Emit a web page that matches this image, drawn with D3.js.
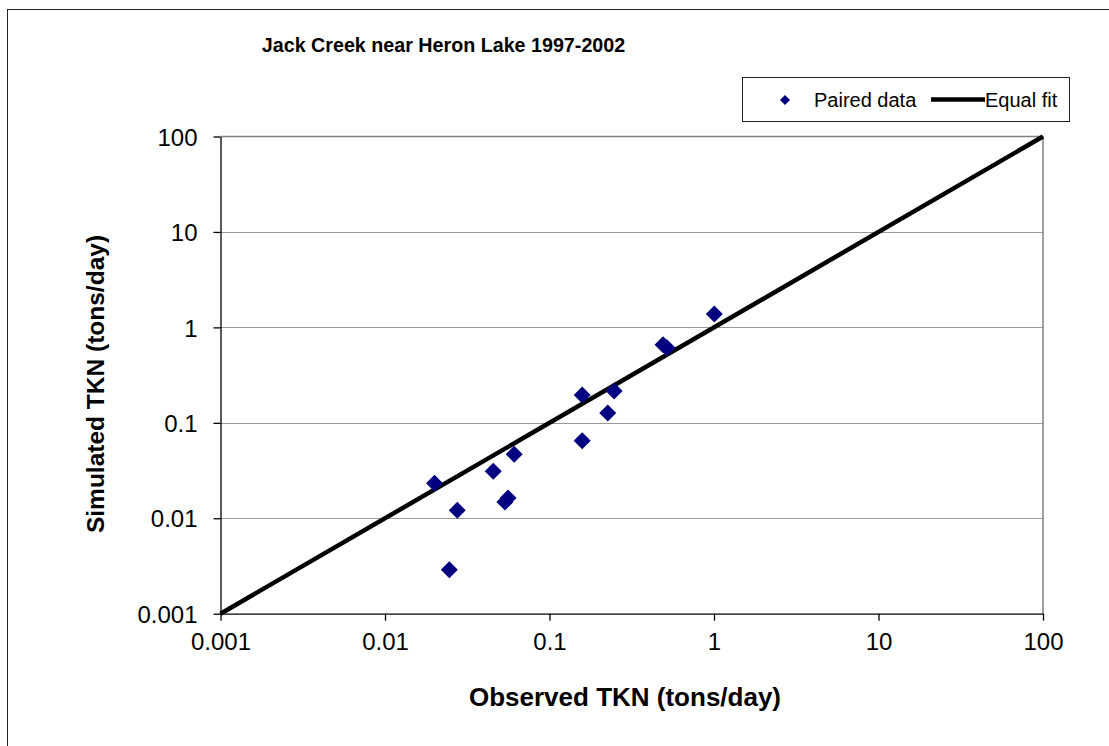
<!DOCTYPE html>
<html><head><meta charset="utf-8">
<script src="https://cdn.jsdelivr.net/npm/d3@7"></script>
<style>body{margin:0;background:#fff}svg{display:block;font-family:"Liberation Sans",Arial,sans-serif}</style>
</head><body>
<svg id="c" width="1109" height="746"></svg>
<script>
const title = "Jack Creek near Heron Lake 1997-2002";
const xLabel = "Observed TKN (tons/day)";
const yLabel = "Simulated TKN (tons/day)";
const tickValues = [0.001, 0.01, 0.1, 1, 10, 100];
const tickLabels = ["0.001", "0.01", "0.1", "1", "10", "100"];
const observed  = [0.020, 0.0275, 0.0455, 0.061, 0.0536, 0.056, 0.0246, 0.158, 0.158, 0.247, 0.226, 0.49, 0.518, 1.004];
const simulated = [0.0233, 0.0121, 0.0311, 0.0469, 0.0148, 0.0163, 0.00289, 0.065, 0.196, 0.216, 0.127, 0.656, 0.61, 1.38];
const equalFit = [0.001, 100];

const svg = d3.select("#c");
const L = 220.5, R = 1043, T = 136.5, B = 613.7;
const x = d3.scaleLog().domain([0.001, 100]).range([L, R]);
const y = d3.scaleLog().domain([0.001, 100]).range([B, T]);

// outer border (only top & left visible)
svg.append("rect").attr("x", 7.5).attr("y", 9.5).attr("width", 1200).attr("height", 800)
  .attr("fill", "none").attr("stroke", "#222").attr("stroke-width", 1);

// grid lines
svg.append("g").selectAll("line").data(tickValues.slice(1, -1)).join("line")
  .attr("x1", L).attr("x2", R).attr("y1", d => Math.round(y(d)) + 0.5).attr("y2", d => Math.round(y(d)) + 0.5)
  .attr("stroke", "#000").attr("stroke-dasharray", "1,1").attr("stroke-width", 1).attr("opacity", 0.8);

// plot border top/right gray
svg.append("path").attr("d", `M${L},${T}H${R}V${B}`).attr("fill", "none").attr("stroke", "#808080").attr("stroke-width", 1.5);

// axes
const fmt = (d) => tickLabels[tickValues.indexOf(d)];
const xAxis = svg.append("g").attr("transform", `translate(0,${B})`)
  .call(d3.axisBottom(x).tickValues(tickValues).tickFormat(fmt).tickSize(7).tickSizeOuter(0));
const yAxis = svg.append("g").attr("transform", `translate(${L},0)`)
  .call(d3.axisLeft(y).tickValues(tickValues).tickFormat(fmt).tickSize(7).tickSizeOuter(0));
[xAxis, yAxis].forEach(g => {
  g.select(".domain").attr("stroke", "#000").attr("stroke-width", 1.3);
  g.selectAll(".tick line").attr("stroke", "#000").attr("stroke-width", 1.3);
  g.selectAll("text").attr("font-family", "Liberation Sans, Arial, sans-serif")
    .attr("font-size", 24).attr("fill", "#000");
});
xAxis.selectAll("text").attr("dy", null).attr("y", 36);
yAxis.selectAll("text").attr("x", -23).attr("dy", "0.36em");

// equal fit line
svg.append("line").attr("x1", x(equalFit[0])).attr("y1", y(equalFit[0]))
  .attr("x2", x(equalFit[1])).attr("y2", y(equalFit[1]))
  .attr("stroke", "#000").attr("stroke-width", 4.5);

// points
const diamond = (cx, cy, r) => `M${cx},${cy - r}L${cx + r},${cy}L${cx},${cy + r}L${cx - r},${cy}Z`;
svg.append("g").selectAll("path").data(observed.map((o, i) => [o, simulated[i]])).join("path")
  .attr("d", d => diamond(x(d[0]), y(d[1]), 8.5)).attr("fill", "#000080");

// titles
svg.append("text").attr("x", 443.5).attr("y", 52).attr("text-anchor", "middle")
  .attr("font-weight", "bold").attr("font-size", 19.7).text(title);
svg.append("text").attr("x", 625).attr("y", 706).attr("text-anchor", "middle")
  .attr("font-weight", "bold").attr("font-size", 26).text(xLabel);
svg.append("text").attr("transform", "translate(104,384) rotate(-90)").attr("text-anchor", "middle")
  .attr("font-weight", "bold").attr("font-size", 24.5).text(yLabel);

// legend
const lg = svg.append("g");
lg.append("rect").attr("x", 742.5).attr("y", 77.5).attr("width", 327).attr("height", 44)
  .attr("fill", "#fff").attr("stroke", "#222").attr("stroke-width", 1);
lg.append("path").attr("d", diamond(785, 100, 5)).attr("fill", "#000080");
lg.append("text").attr("x", 814).attr("y", 106.5).attr("font-size", 20).text("Paired data");
lg.append("line").attr("x1", 931).attr("x2", 985).attr("y1", 99.5).attr("y2", 99.5)
  .attr("stroke", "#000").attr("stroke-width", 4.5);
lg.append("text").attr("x", 985).attr("y", 106.5).attr("font-size", 20).text("Equal fit");
</script>
</body></html>
